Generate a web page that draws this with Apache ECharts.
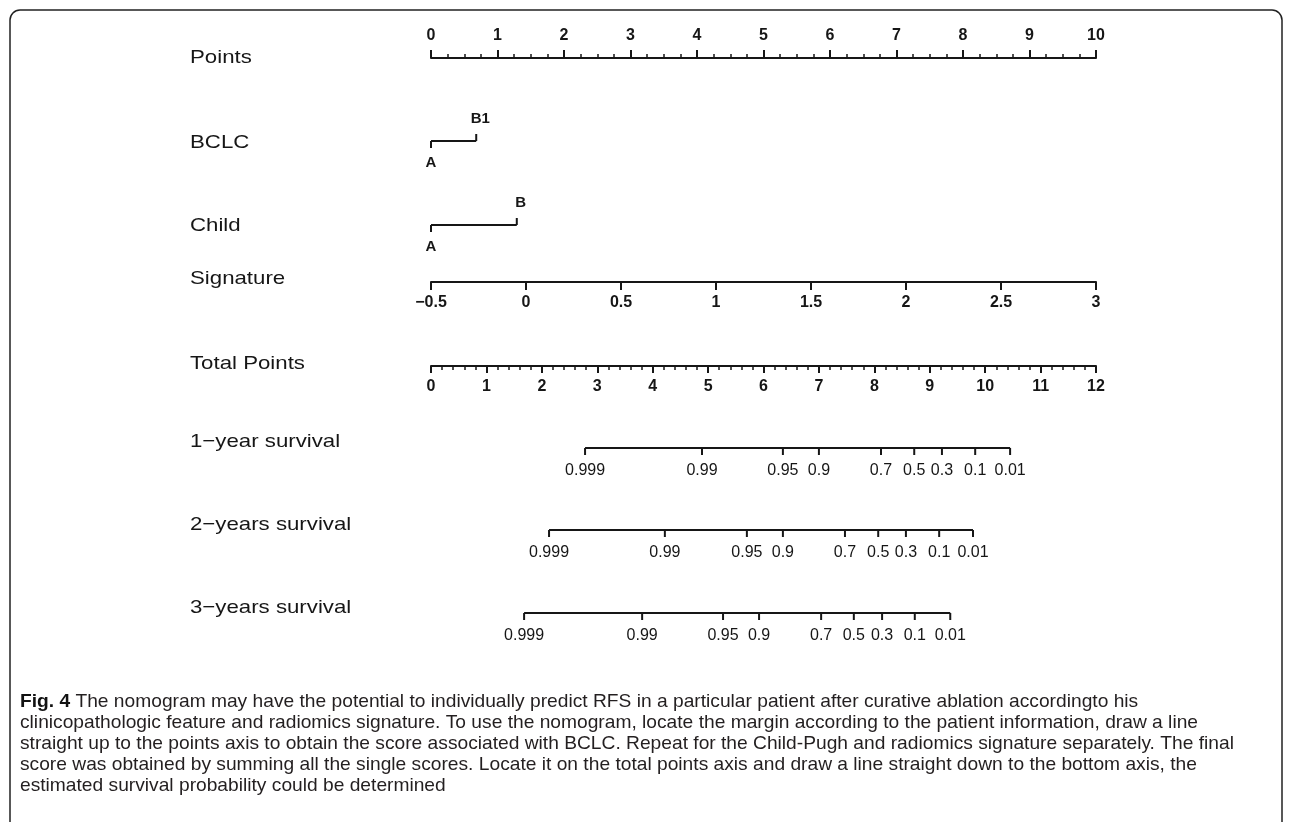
<!DOCTYPE html>
<html><head><meta charset="utf-8">
<script src="https://cdn.jsdelivr.net/npm/echarts@6/dist/echarts.min.js"></script>
<style>html,body{margin:0;padding:0;background:#fff}#c{width:1292px;height:822px}</style>
</head><body><div id="c"></div>
<script>
// ---------- data ----------
const rowLabels = ['Points', 'BCLC', 'Child', 'Signature', 'Total Points', '1\u2212year survival', '2\u2212years survival', '3\u2212years survival'];
const pointsRange = [0, 10];
const signatureRange = [-0.5, 3];
const totalRange = [0, 12];
const bclcLevels = ['A', 'B1'];
const bclcPoints = [0, 0.68];
const childLevels = ['A', 'B'];
const childPoints = [0, 1.29];
const survivalLabels = ['0.999', '0.99', '0.95', '0.9', '0.7', '0.5', '0.3', '0.1', '0.01'];
const surv1yTotal = [2.78, 4.89, 6.35, 7.00, 8.12, 8.72, 9.22, 9.82, 10.45];
const surv2yTotal = [2.13, 4.22, 5.70, 6.35, 7.47, 8.07, 8.57, 9.17, 9.78];
const surv3yTotal = [1.68, 3.81, 5.27, 5.92, 7.04, 7.63, 8.14, 8.73, 9.37];
const captionBold = 'Fig. 4';
const captionLines = [
  ' The nomogram may have the potential to individually predict RFS in a particular patient after curative ablation accordingto his',
  'clinicopathologic feature and radiomics signature. To use the nomogram, locate the margin according to the patient information, draw a line',
  'straight up to the points axis to obtain the score associated with BCLC. Repeat for the Child-Pugh and radiomics signature separately. The final',
  'score was obtained by summing all the single scores. Locate it on the total points axis and draw a line straight down to the bottom axis, the',
  'estimated survival probability could be determined'
];

// ---------- layout ----------
const W = 1292, AX_L = 431, AX_R = 1096;
const INK = '#161616';
const FF = '"Liberation Sans", Arial, Helvetica, sans-serif';
const lineY = [57, 141, 225, 282, 366, 448, 530, 613];
const labelY = [58, 143, 226, 279, 364, 442, 525, 608];
const capX = 20;
const capRight = [1097, 1208, 1252, 1210];
const capY = [702, 723, 744, 765, 786];

const chart = echarts.init(document.getElementById('c'), null, {renderer: 'canvas'});

function gridAt(y, top) {
  return {left: AX_L, right: W - AX_R, top: top ? y : y - 1, height: 1, containLabel: false, show: false};
}
const grids = lineY.map((y, i) => gridAt(y, i === 0));

const axLine = {show: true, lineStyle: {color: INK, width: 2}};
function shownAxis(gi, range, interval, pos, tickLen, minorSplit, margin, fmt) {
  const a = {
    gridIndex: gi, type: 'value', min: range[0], max: range[1], interval: interval, position: pos,
    axisLine: axLine,
    axisTick: {show: true, length: tickLen, lineStyle: {color: INK, width: 2}},
    axisLabel: {margin: margin, fontSize: 16, fontWeight: 'bold', color: INK, fontFamily: FF, formatter: fmt},
    splitLine: {show: false}
  };
  if (minorSplit) {
    a.minorTick = {show: true, splitNumber: minorSplit, length: 4, lineStyle: {color: INK, width: 1.5}};
    a.minorSplitLine = {show: false};
  }
  return a;
}
function hiddenAxis(gi, range) {
  return {gridIndex: gi, type: 'value', min: range[0], max: range[1], show: false};
}
const minusFmt = v => String(v).replace('-', '\u2212');

const xAxes = [
  shownAxis(0, pointsRange, 1, 'top', 8, 4, 13, minusFmt),
  hiddenAxis(1, pointsRange),
  hiddenAxis(2, pointsRange),
  shownAxis(3, signatureRange, 0.5, 'bottom', 8, 0, 13, minusFmt),
  shownAxis(4, totalRange, 1, 'bottom', 7, 5, 13, minusFmt),
  hiddenAxis(5, totalRange),
  hiddenAxis(6, totalRange),
  hiddenAxis(7, totalRange)
];
const yAxes = lineY.map((y, i) => ({gridIndex: i, type: 'value', min: 0, max: 1, show: false}));

function connector(ai, vals) {
  return {type: 'line', xAxisIndex: ai, yAxisIndex: ai, data: vals.map(v => [v, 0]), symbol: 'none',
    lineStyle: {color: INK, width: 2}, silent: true, z: 3};
}
function ticks(ai, vals, labels, alternate, font, gap) {
  return {
    type: 'custom', xAxisIndex: ai, yAxisIndex: ai, clip: false, silent: true, z: 4,
    data: vals.map(v => [v, 0]),
    renderItem: function (params, api) {
      const p = api.coord([api.value(0), 0]);
      const up = alternate && params.dataIndex % 2 === 1;
      const d = up ? -1 : 1;
      return {type: 'group', children: [
        {type: 'line', shape: {x1: p[0], y1: p[1], x2: p[0], y2: p[1] + d * 7},
          style: {stroke: INK, lineWidth: 2}},
        {type: 'text', style: {text: labels[params.dataIndex], x: p[0] + (up ? 4 : 0), y: p[1] + d * gap,
          align: 'center', verticalAlign: 'middle', font: font, fill: INK}}
      ]};
    }
  };
}
const catFont = 'bold 15px ' + FF;
const survFont = '16px ' + FF;
const series = [
  connector(1, bclcPoints), ticks(1, bclcPoints, bclcLevels, true, catFont, 22),
  connector(2, childPoints), ticks(2, childPoints, childLevels, true, catFont, 22),
  connector(5, surv1yTotal), ticks(5, surv1yTotal, survivalLabels, false, survFont, 23),
  connector(6, surv2yTotal), ticks(6, surv2yTotal, survivalLabels, false, survFont, 23),
  connector(7, surv3yTotal), ticks(7, surv3yTotal, survivalLabels, false, survFont, 23)
];

// ---------- graphic: frame, row labels, caption ----------
const ctx = document.createElement('canvas').getContext('2d');
function mw(text, font) { ctx.font = font; return ctx.measureText(text).width; }

const graphic = [];
graphic.push({type: 'rect', shape: {x: 10, y: 10, width: 1272, height: 840, r: 10},
  style: {fill: 'none', stroke: '#222', lineWidth: 1.5}, silent: true});
rowLabels.forEach((t, i) => {
  graphic.push({type: 'text', x: 190, y: labelY[i], scaleX: 1.17, scaleY: 1,
    style: {text: t, x: 0, y: 0, align: 'left', verticalAlign: 'middle', font: '19px ' + FF, fill: INK}});
});
const CF = '"Liberation Sans Narrow", "Liberation Sans", Arial, sans-serif';
const capFont = '19px ' + CF;
const capBoldFont = 'bold 19px ' + CF;
const boldW = mw(captionBold, capBoldFont);
let tgt = 0, meas = 0;
capRight.forEach((r, i) => {
  tgt += r - capX;
  meas += mw(captionLines[i], capFont) + (i === 0 ? boldW : 0);
});
const capScale = tgt / meas;
graphic.push({type: 'group', x: capX, y: capY[0], scaleX: capScale, children: [
  {type: 'text', style: {text: captionBold, x: 0, y: 0, verticalAlign: 'middle', font: capBoldFont, fill: '#111'}},
  {type: 'text', style: {text: captionLines[0], x: boldW, y: 0, verticalAlign: 'middle', font: capFont, fill: '#231f20'}}
]});
for (let i = 1; i < captionLines.length; i++) {
  graphic.push({type: 'text', x: capX, y: capY[i], scaleX: capScale,
    style: {text: captionLines[i], x: 0, y: 0, verticalAlign: 'middle', font: capFont, fill: '#231f20'}});
}

chart.setOption({
  animation: false,
  backgroundColor: '#fff',
  grid: grids,
  xAxis: xAxes,
  yAxis: yAxes,
  series: series,
  graphic: graphic
});
</script></body></html>
